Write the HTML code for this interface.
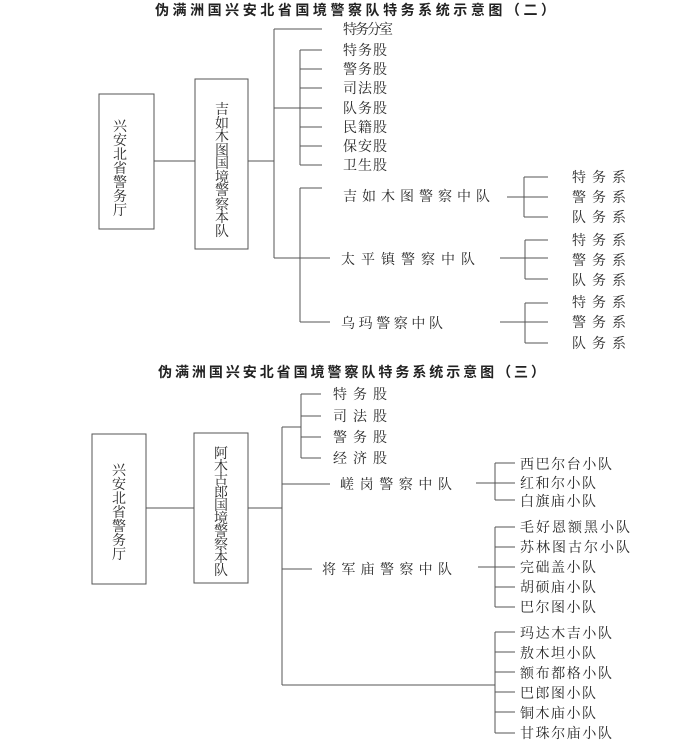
<!DOCTYPE html>
<html><head><meta charset="utf-8"><style>
html,body{margin:0;padding:0;background:#fff;}
svg{display:block;}
text{font-family:"Liberation Serif","Noto Serif CJK SC","Noto Sans CJK SC",serif;fill:#2a2a2a;font-size:14px;}
.t{font-family:"Liberation Sans","Noto Sans CJK SC",sans-serif;font-weight:bold;font-size:14px;fill:#222;}
line,rect{stroke:#555;stroke-width:1;fill:none;}
</style></head><body>
<svg width="699" height="756" viewBox="0 0 699 756" xmlns="http://www.w3.org/2000/svg">
<text class="t" x="155" y="15" textLength="400" lengthAdjust="spacing">伪满洲国兴安北省国境警察队特务系统示意图（二）</text>
<rect x="99" y="94" width="55" height="135"/>
<rect x="195" y="79" width="53" height="170"/>
<line x1="154" y1="161" x2="195" y2="161"/>
<line x1="248" y1="161" x2="274" y2="161"/>
<line x1="274" y1="29" x2="274" y2="258"/>
<line x1="274" y1="29" x2="322" y2="29"/>
<line x1="274" y1="108" x2="300" y2="108"/>
<line x1="300" y1="50" x2="300" y2="165"/>
<g>
<line x1="300" y1="50" x2="322" y2="50"/><line x1="300" y1="69" x2="322" y2="69"/><line x1="300" y1="88" x2="322" y2="88"/><line x1="300" y1="108" x2="322" y2="108"/><line x1="300" y1="127" x2="322" y2="127"/><line x1="300" y1="146" x2="322" y2="146"/><line x1="300" y1="165" x2="322" y2="165"/>
</g>
<line x1="300" y1="188" x2="300" y2="322"/>
<line x1="300" y1="188" x2="322" y2="188"/>
<line x1="274" y1="258" x2="330" y2="258"/>
<line x1="300" y1="322" x2="330" y2="322"/>
<text x="343" y="34" textLength="50">特务分室</text>
<text x="343" y="55" textLength="44">特务股</text>
<text x="343" y="74" textLength="44">警务股</text>
<text x="343" y="93" textLength="44">司法股</text>
<text x="343" y="113" textLength="44">队务股</text>
<text x="343" y="132" textLength="44">民籍股</text>
<text x="343" y="151" textLength="44">保安股</text>
<text x="343" y="170" textLength="44">卫生股</text>
<text x="343" y="201" textLength="147">吉如木图警察中队</text>
<text x="341" y="264" textLength="134">太平镇警察中队</text>
<text x="341" y="328" textLength="102">乌玛警察中队</text>
<g>
<line x1="507" y1="197" x2="548" y2="197"/><line x1="524" y1="177" x2="524" y2="217"/><line x1="524" y1="177" x2="548" y2="177"/><line x1="524" y1="217" x2="548" y2="217"/>
<line x1="500" y1="258" x2="548" y2="258"/><line x1="525" y1="240" x2="525" y2="279"/><line x1="525" y1="240" x2="548" y2="240"/><line x1="525" y1="279" x2="548" y2="279"/>
<line x1="500" y1="322" x2="548" y2="322"/><line x1="525" y1="303" x2="525" y2="343"/><line x1="525" y1="303" x2="548" y2="303"/><line x1="525" y1="343" x2="548" y2="343"/>
</g>
<text x="572" y="182" textLength="54">特务系</text><text x="572" y="202" textLength="54">警务系</text><text x="572" y="222" textLength="54">队务系</text>
<text x="572" y="245" textLength="54">特务系</text><text x="572" y="265" textLength="54">警务系</text><text x="572" y="285" textLength="54">队务系</text>
<text x="572" y="307" textLength="54">特务系</text><text x="572" y="327" textLength="54">警务系</text><text x="572" y="348" textLength="54">队务系</text>
<g>
<text x="120" y="131" text-anchor="middle">兴</text><text x="120" y="145" text-anchor="middle">安</text><text x="120" y="159" text-anchor="middle">北</text><text x="120" y="173" text-anchor="middle">省</text><text x="120" y="187" text-anchor="middle">警</text><text x="120" y="201" text-anchor="middle">务</text><text x="120" y="215" text-anchor="middle">厅</text>
<text x="222" y="114" text-anchor="middle">吉</text><text x="222" y="128" text-anchor="middle">如</text><text x="222" y="141" text-anchor="middle">木</text><text x="222" y="155" text-anchor="middle">图</text><text x="222" y="168" text-anchor="middle">国</text><text x="222" y="182" text-anchor="middle">境</text><text x="222" y="195" text-anchor="middle">警</text><text x="222" y="209" text-anchor="middle">察</text><text x="222" y="222" text-anchor="middle">本</text><text x="222" y="236" text-anchor="middle">队</text>
</g>

<text class="t" x="158" y="377" textLength="387" lengthAdjust="spacing">伪满洲国兴安北省国境警察队特务系统示意图（三）</text>
<rect x="92" y="434" width="54" height="150"/>
<rect x="194" y="433" width="54" height="150"/>
<line x1="146" y1="508" x2="194" y2="508"/>
<line x1="248" y1="508" x2="282" y2="508"/>
<line x1="282" y1="427" x2="282" y2="685"/>
<line x1="282" y1="427" x2="301" y2="427"/>
<line x1="301" y1="394" x2="301" y2="458"/>
<line x1="301" y1="394" x2="321" y2="394"/><line x1="301" y1="416" x2="321" y2="416"/><line x1="301" y1="437" x2="321" y2="437"/><line x1="301" y1="458" x2="321" y2="458"/>
<line x1="282" y1="484" x2="330" y2="484"/>
<line x1="282" y1="569" x2="312" y2="569"/>
<line x1="282" y1="685" x2="495" y2="685"/>
<text x="333" y="399" textLength="54">特务股</text>
<text x="333" y="421" textLength="54">司法股</text>
<text x="333" y="442" textLength="54">警务股</text>
<text x="333" y="463" textLength="54">经济股</text>
<text x="340" y="489" textLength="112">嵯岗警察中队</text>
<text x="322" y="574" textLength="130">将军庙警察中队</text>
<g>
<line x1="476" y1="483" x2="515" y2="483"/><line x1="495" y1="463" x2="495" y2="500"/><line x1="495" y1="463" x2="515" y2="463"/><line x1="495" y1="500" x2="515" y2="500"/>
<line x1="478" y1="567" x2="515" y2="567"/><line x1="495" y1="527" x2="495" y2="607"/><line x1="495" y1="527" x2="515" y2="527"/><line x1="495" y1="547" x2="515" y2="547"/><line x1="495" y1="587" x2="515" y2="587"/><line x1="495" y1="607" x2="515" y2="607"/>
<line x1="495" y1="632" x2="495" y2="733"/><line x1="495" y1="632" x2="515" y2="632"/><line x1="495" y1="652" x2="515" y2="652"/><line x1="495" y1="672" x2="515" y2="672"/><line x1="495" y1="692" x2="515" y2="692"/><line x1="495" y1="712" x2="515" y2="712"/><line x1="495" y1="733" x2="515" y2="733"/>
</g>
<text x="520" y="469" textLength="92">西巴尔台小队</text>
<text x="520" y="488" textLength="76">红和尔小队</text>
<text x="520" y="506" textLength="76">白旗庙小队</text>
<text x="520" y="532" textLength="110">毛好恩额黑小队</text>
<text x="520" y="552" textLength="110">苏林图古尔小队</text>
<text x="520" y="572" textLength="76">完础盖小队</text>
<text x="520" y="592" textLength="76">胡硕庙小队</text>
<text x="520" y="612" textLength="76">巴尔图小队</text>
<text x="520" y="638" textLength="92">玛达木吉小队</text>
<text x="520" y="658" textLength="76">敖木坦小队</text>
<text x="520" y="678" textLength="92">额布都格小队</text>
<text x="520" y="698" textLength="76">巴郎图小队</text>
<text x="520" y="718" textLength="76">铜木庙小队</text>
<text x="520" y="738" textLength="92">甘珠尔庙小队</text>
<g>
<text x="119" y="475" text-anchor="middle">兴</text><text x="119" y="489" text-anchor="middle">安</text><text x="119" y="503" text-anchor="middle">北</text><text x="119" y="517" text-anchor="middle">省</text><text x="119" y="531" text-anchor="middle">警</text><text x="119" y="545" text-anchor="middle">务</text><text x="119" y="559" text-anchor="middle">厅</text>
<text x="221" y="458" text-anchor="middle">阿</text><text x="221" y="471" text-anchor="middle">木</text><text x="221" y="484" text-anchor="middle">古</text><text x="221" y="497" text-anchor="middle">郎</text><text x="221" y="510" text-anchor="middle">国</text><text x="221" y="523" text-anchor="middle">境</text><text x="221" y="536" text-anchor="middle">警</text><text x="221" y="549" text-anchor="middle">察</text><text x="221" y="562" text-anchor="middle">本</text><text x="221" y="575" text-anchor="middle">队</text>
</g>
</svg>
</body></html>
